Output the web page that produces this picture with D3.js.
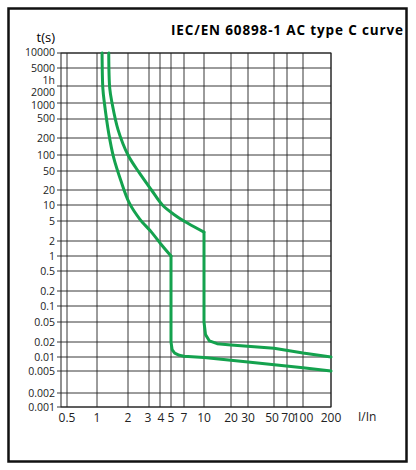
<!DOCTYPE html><html><head><meta charset="utf-8"><script src="https://cdn.jsdelivr.net/npm/d3@7"></script>
<style>body{margin:0;background:#fff}svg{font-family:"Open Sans",sans-serif}</style></head><body><svg id="c" width="416" height="470"></svg><script>
const xTicks=[0.5,1,2,3,4,5,7,10,20,30,50,70,100,200];
const xLabels=["0.5","1","2","3","4","5","7","10","20","30","50","70","100","200"];
const yTicks=[0.001,0.002,0.005,0.01,0.02,0.05,0.1,0.2,0.5,1,2,5,10,20,50,100,200,500,1000,3600,5000,10000];
const yLabels=["0.001","0.002","0.005","0.01","0.02","0.05","0.1","0.2","0.5","1","2","5","10","20","50","100","200","500","1000","1h","5000","10000"];
const curveAUpper=[[1.12,10000],[1.14,3000],[1.18,1000],[1.3,250],[1.45,90],[1.7,32],[2.05,11],[2.5,5.5],[3.2,3],[4.1,1.7],[5,1]];
const curveALower=[[5,1],[5,0.02],[5.15,0.014],[5.5,0.012],[6.2,0.0108],[7,0.0104],[10,0.0097],[30,0.0078],[100,0.0059],[200,0.005]];
const curveBUpper=[[1.3,10000],[1.33,3000],[1.4,1000],[1.6,300],[2,100],[2.5,45],[3.2,20],[4.2,10],[5.5,6.5],[7.5,4.5],[10,3]];
const curveBLower=[[10,3],[10,0.05],[10.4,0.028],[11.5,0.021],[14,0.0185],[20,0.0175],[50,0.015],[100,0.012],[200,0.01]];
const xPos=[67,97,128,149,160,171,184,204,231,248,274,287,303,331];
const yPos=[407,393,371,357,342,322,306,291,271,256,241,221,205,190,171,155,138,119,103,86,68,53];
const x=d3.scaleLog().domain(xTicks).range(xPos);
const y=d3.scaleLog().domain(yTicks).range(yPos);
const svg=d3.select("#c");
svg.append("rect").attr("x",8.5).attr("y",8.5).attr("width",398).attr("height",453).attr("fill","none").attr("stroke","#111").attr("stroke-width",2.5);
svg.append("text").attr("x",403).attr("y",35).attr("text-anchor","end").attr("font-weight","bold").attr("font-size",13.5).attr("textLength",232).text("IEC/EN 60898-1 AC type C curve");
svg.append("text").attr("x",55).attr("y",42).attr("text-anchor","end").attr("font-size",13).text("t(s)");
const g=svg.append("g");
const L=61,R=331,T=53,B=407;
g.append("rect").attr("x",L).attr("y",T).attr("width",R-L).attr("height",B-T).attr("fill","none").attr("stroke","#222");
xTicks.forEach(v=>g.append("line").attr("x1",x(v)).attr("x2",x(v)).attr("y1",T).attr("y2",B).attr("stroke","#222").attr("stroke-width",0.9));
yTicks.forEach(v=>g.append("line").attr("y1",y(v)).attr("y2",y(v)).attr("x1",L-4).attr("x2",R).attr("stroke","#222").attr("stroke-width",0.9));
const labelY={10000:56,5000:72,3600:84,1000:109,500:122};
yTicks.forEach((v,i)=>{const yy=labelY[v]!==undefined?labelY[v]:y(v)+4;
 g.append("text").attr("x",55).attr("y",yy).attr("text-anchor","end").attr("font-size",10.5).attr("fill","#222").text(yLabels[i]);});
g.append("text").attr("x",55).attr("y",96).attr("text-anchor","end").attr("font-size",10.5).attr("fill","#222").text("2000");
xTicks.forEach((v,i)=>{let xx=x(v);if(v===3)xx-=1;if(v===4)xx+=1;if(v===50)xx-=2;if(v===70)xx+=1;
 g.append("text").attr("x",xx).attr("y",422).attr("text-anchor","middle").attr("font-size",12).attr("fill","#222").text(xLabels[i]);});
g.append("text").attr("x",358).attr("y",421).attr("font-size",12).attr("fill","#222").text("I/In");
const smooth=d3.line().x(d=>x(d[0])).y(d=>y(d[1])).curve(d3.curveCatmullRom.alpha(0.5));
const lin=d3.line().x(d=>x(d[0])).y(d=>y(d[1])).curve(d3.curveMonotoneY);
const lin2=d3.line().x(d=>x(d[0])).y(d=>y(d[1])).curve(d3.curveLinear);
const st=p=>p.attr("fill","none").attr("stroke","#14a24e").attr("stroke-width",3).attr("stroke-linejoin","round").attr("stroke-linecap","round");
[curveAUpper,curveBUpper].forEach(c=>st(g.append("path").attr("d",smooth(c))));
[curveALower,curveBLower].forEach(c=>st(g.append("path").attr("d",lin2(c))));
</script></body></html>
